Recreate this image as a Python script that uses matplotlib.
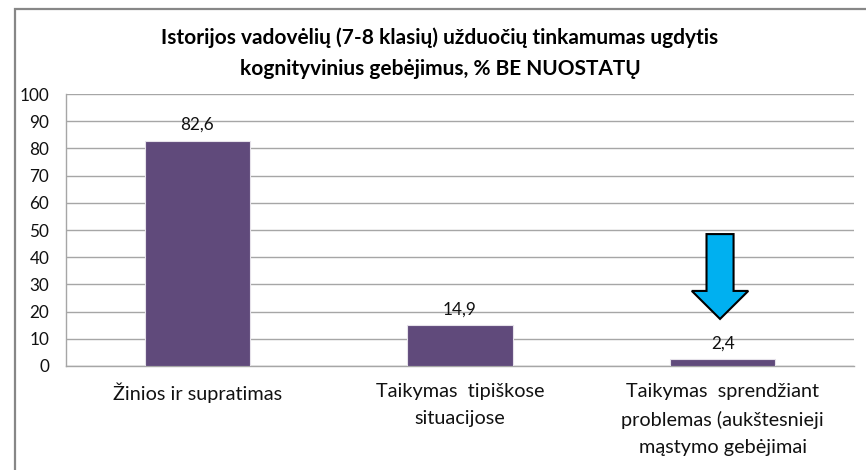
import matplotlib
matplotlib.use("Agg")
import matplotlib.pyplot as plt
from matplotlib.patches import Rectangle, FancyArrow

# Duomenys (perskaityti nuo paveikslo)
categories = [
    "Žinios ir supratimas",
    "Taikymas  tipiškose\nsituacijose",
    "Taikymas  sprendžiant\nproblemas (aukštesnieji\nmąstymo gebėjimai",
]
values = [82.6, 14.9, 2.4]
value_labels = ["82,6", "14,9", "2,4"]
y_ticks = list(range(0, 101, 10))
title = ("Istorijos vadovėlių (7-8 klasių) užduočių tinkamumas ugdytis\n"
         "kognityvinius gebėjimus, % BE NUOSTATŲ")

plt.rcParams["font.family"] = ["Lato", "DejaVu Sans"]

W, H = 866, 470
fig = plt.figure(figsize=(W / 100, H / 100), dpi=100)
ax = fig.add_axes([66 / W, 1 - 366 / H, (854 - 66) / W, (366 - 94) / H])

# Rėmelis aplink diagramą
fig.patches.append(Rectangle((14.5 / W, -0.1), 1.2, 1.1 - 9 / H,
                             transform=fig.transFigure, fill=False,
                             edgecolor="#878787", linewidth=1.6))

x = list(range(len(categories)))
ax.bar(x, values, width=0.4, color="#604A7B", edgecolor="#e6e2ea",
       linewidth=0.8, zorder=3)

for xi, v, lab in zip(x, values, value_labels):
    ax.annotate(lab, (xi, v), xytext=(0, 6), textcoords="offset points",
                ha="center", va="bottom", fontsize=12.3, color="#111111")

ax.set_xlim(-0.5, 2.5)
ax.set_ylim(0, 100)
ax.set_yticks(y_ticks)
ax.tick_params(axis="y", length=0, pad=12, labelsize=12.3, labelcolor="#111111")
ax.set_xticks(x)
ax.set_xticklabels(categories, fontsize=14.3, linespacing=1.72, va="top",
                   color="#111111")
ax.tick_params(axis="x", length=0, pad=12)
ax.grid(axis="y", color="#a6a6a6", linewidth=1, zorder=0)
for s in ["top", "right"]:
    ax.spines[s].set_visible(False)
for s in ["left", "bottom"]:
    ax.spines[s].set_color("#a6a6a6")
    ax.spines[s].set_linewidth(1)

# Mėlyna rodyklė ties trečiu stulpeliu
ax.add_patch(FancyArrow(1.99, 48.5, 0, -31.2, width=0.103, head_width=0.215,
                        head_length=10.3, length_includes_head=True,
                        facecolor="#00B0F0", edgecolor="black", linewidth=1.5,
                        zorder=5))

fig.text(440 / W, 1 - 53 / H, title, ha="center", va="center",
         fontsize=15, fontweight="bold", linespacing=1.7)

fig.savefig("out.png", dpi=100, facecolor="white")
